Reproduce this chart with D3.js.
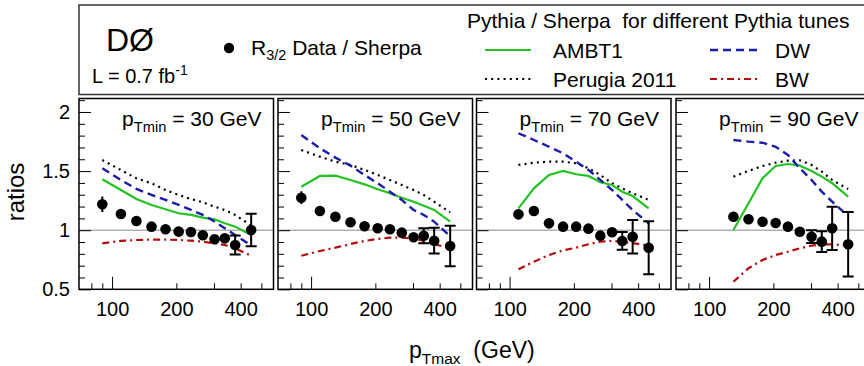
<!DOCTYPE html>
<html>
<head>
<meta charset="utf-8">
<script src="https://cdn.jsdelivr.net/npm/d3@7"></script>
<style>
  html, body { margin: 0; padding: 0; background: #fff; }
  svg { display: block; font-family: "Liberation Sans", Arial, Helvetica, sans-serif; }
</style>
</head>
<body>
<svg id="chart" width="864" height="366"></svg>
<script>
// ---------------- data ----------------
const pTmax = [90, 110, 130, 153, 178, 205, 234, 266, 302, 337, 377, 448];
const pTmin = [30, 50, 70, 90];
const startIdx = [0, 0, 1, 2];

const dataRatio = [
  [1.219, 1.137, 1.078, 1.030, 1.008, 0.988, 0.985, 0.957, 0.923, 0.931, 0.875, 1.002],
  [1.275, 1.162, 1.114, 1.067, 1.033, 1.016, 1.008, 0.979, 0.940, 0.953, 0.911, 0.866],
  [1.134, 1.162, 1.058, 1.030, 1.030, 1.013, 0.954, 0.982, 0.909, 0.945, 0.852],
  [1.114, 1.092, 1.072, 1.061, 1.030, 0.987, 0.945, 0.903, 1.016, 0.881]
];
const dataErr = [
  [0.065, 0.030, 0.025, 0.020, 0.020, 0.020, 0.020, 0.020, 0.025, 0.030, 0.080, 0.137],
  [0.054, 0.040, 0.030, 0.025, 0.020, 0.020, 0.020, 0.020, 0.030, 0.063, 0.109, 0.172],
  [0.042, 0.035, 0.030, 0.025, 0.025, 0.025, 0.030, 0.035, 0.075, 0.142, 0.224],
  [0.042, 0.035, 0.035, 0.030, 0.030, 0.030, 0.054, 0.087, 0.183, 0.272]
];
const capFrom = [10, 9, 8, 6];

const ambt1 = [
  [1.431, 1.340, 1.264, 1.213, 1.177, 1.143, 1.129, 1.106, 1.092, 1.058, 1.030, 0.959],
  [1.368, 1.459, 1.461, 1.425, 1.388, 1.346, 1.312, 1.275, 1.241, 1.207, 1.171, 1.072],
  [1.185, 1.354, 1.467, 1.501, 1.473, 1.459, 1.405, 1.382, 1.326, 1.289, 1.185],
  [1.002, 1.228, 1.439, 1.543, 1.560, 1.546, 1.501, 1.453, 1.397, 1.284]
];
const perugia2011 = [
  [1.593, 1.509, 1.439, 1.397, 1.340, 1.298, 1.264, 1.236, 1.199, 1.171, 1.129, 1.040],
  [1.678, 1.622, 1.580, 1.552, 1.510, 1.467, 1.425, 1.382, 1.340, 1.298, 1.241, 1.151],
  [1.552, 1.571, 1.580, 1.580, 1.566, 1.524, 1.467, 1.397, 1.354, 1.312, 1.256],
  [1.453, 1.501, 1.543, 1.571, 1.588, 1.591, 1.552, 1.495, 1.425, 1.348]
];
const dw = [
  [1.524, 1.425, 1.350, 1.298, 1.256, 1.214, 1.171, 1.129, 1.073, 1.017, 0.960, 0.870],
  [1.805, 1.693, 1.614, 1.546, 1.467, 1.397, 1.326, 1.256, 1.171, 1.129, 1.072, 0.950],
  [1.820, 1.763, 1.706, 1.650, 1.580, 1.510, 1.425, 1.340, 1.256, 1.171, 1.058],
  [1.763, 1.749, 1.740, 1.706, 1.636, 1.524, 1.425, 1.326, 1.241, 1.120]
];
const bw = [
  [0.889, 0.909, 0.917, 0.920, 0.920, 0.917, 0.911, 0.903, 0.889, 0.875, 0.847, 0.784],
  [0.784, 0.824, 0.852, 0.883, 0.909, 0.926, 0.937, 0.937, 0.930, 0.910, 0.880, 0.850],
  [0.669, 0.734, 0.790, 0.830, 0.852, 0.881, 0.903, 0.910, 0.900, 0.890, 0.870],
  [0.564, 0.678, 0.748, 0.790, 0.818, 0.847, 0.869, 0.881, 0.880, 0.870]
];

const xTickMajor = [100];
const xTickMinor = [80, 90, 200, 300, 400, 500];
const xTickLabels = [100, 200, 400];
const yTickMajor = [0.5, 1, 1.5, 2];
const yTickMinor = [0.6, 0.7, 0.8, 0.9, 1.1, 1.2, 1.3, 1.4, 1.6, 1.7, 1.8, 1.9, 2.1];
const yTickLabels = [0.5, 1, 1.5, 2];

// ---------------- layout ----------------
const svg = d3.select("#chart");
const panelLeft = [79, 278, 476.5, 676];
const panelW = 194.5;
const panelTop = 98.5, panelBottom = 289.3;
const panelH = panelBottom - panelTop;

const COL = { green: "#22c322", blue: "#1c1caa", red: "#b30c0c", black: "#000" };
const styles = {
  ambt1: { stroke: COL.green, width: 2.2, dash: null },
  perugia: { stroke: COL.black, width: 2.2, dash: "2,4.2" },
  dw: { stroke: COL.blue, width: 2.4, dash: "8,5" },
  bw: { stroke: COL.red, width: 2.2, dash: "7,4,2,4" }
};

const x = d3.scaleLog().domain([70, 570]).range([0, panelW]);
const y = d3.scaleLinear().domain([0.5, 2.114]).range([panelH, 0]);

// legend box
svg.append("rect").attr("x", 79).attr("y", 5).attr("width", 800).attr("height", 89.5)
  .attr("fill", "none").attr("stroke", "#333").attr("stroke-width", 1.5);

svg.append("text").attr("x", 106).attr("y", 51).attr("font-size", 32).text("DØ");
const lt = svg.append("text").attr("x", 92).attr("y", 83).attr("font-size", 20);
lt.append("tspan").text("L = 0.7 fb");
lt.append("tspan").attr("font-size", 14).attr("dy", -8).text("-1");

svg.append("circle").attr("cx", 229).attr("cy", 48).attr("r", 5.2).attr("fill", "#000");
const rt = svg.append("text").attr("x", 251).attr("y", 55).attr("font-size", 21);
rt.append("tspan").text("R");
rt.append("tspan").attr("font-size", 14.5).attr("dy", 5).text("3/2");
rt.append("tspan").attr("dy", -5).text(" Data / Sherpa");

svg.append("text").attr("x", 467).attr("y", 28).attr("font-size", 21)
  .attr("xml:space", "preserve").text("Pythia / Sherpa  for different Pythia tunes");

const legendItems = [
  { key: "ambt1", label: "AMBT1", x1: 485, x2: 531, ly: 50, tx: 553, ty: 58 },
  { key: "perugia", label: "Perugia 2011", x1: 485, x2: 531, ly: 79, tx: 553, ty: 87 },
  { key: "dw", label: "DW", x1: 710, x2: 760, ly: 50, tx: 775, ty: 58 },
  { key: "bw", label: "BW", x1: 710, x2: 760, ly: 79, tx: 775, ty: 87 }
];
legendItems.forEach(it => {
  const s = styles[it.key];
  svg.append("line").attr("x1", it.x1).attr("x2", it.x2).attr("y1", it.ly).attr("y2", it.ly)
    .attr("stroke", s.stroke).attr("stroke-width", s.width)
    .attr("stroke-dasharray", s.dash);
  svg.append("text").attr("x", it.tx).attr("y", it.ty).attr("font-size", 21).text(it.label);
});

// y title
svg.append("text").attr("transform", "translate(24,192) rotate(-90)")
  .attr("text-anchor", "middle").attr("font-size", 24).text("ratios");

// x title
const xt = svg.append("text").attr("x", 409).attr("y", 358).attr("font-size", 23)
  .attr("xml:space", "preserve");
xt.append("tspan").text("p");
xt.append("tspan").attr("font-size", 15.5).attr("dy", 6).text("Tmax");
xt.append("tspan").attr("dy", -6).text("  (GeV)");

const line = d3.line().x(d => x(d[0])).y(d => y(d[1]));

pTmin.forEach((pm, p) => {
  const g = svg.append("g").attr("transform", `translate(${panelLeft[p]},${panelTop})`);
  const clipId = "clip" + p;
  g.append("clipPath").attr("id", clipId).append("rect")
    .attr("width", panelW).attr("height", panelH);

  // reference line at 1
  g.append("line").attr("x1", 0).attr("x2", panelW).attr("y1", y(1)).attr("y2", y(1))
    .attr("stroke", "#b0b0b0").attr("stroke-width", 1.5);

  const xs = pTmax.slice(startIdx[p]);
  const curves = [["perugia", perugia2011[p]], ["ambt1", ambt1[p]], ["dw", dw[p]], ["bw", bw[p]]];
  const cg = g.append("g").attr("clip-path", `url(#${clipId})`);
  curves.forEach(([key, vals]) => {
    const s = styles[key];
    cg.append("path").datum(vals.map((v, i) => [xs[i], v]))
      .attr("d", line).attr("fill", "none")
      .attr("stroke", s.stroke).attr("stroke-width", s.width)
      .attr("stroke-dasharray", s.dash);
  });

  // data points
  const pts = dataRatio[p].map((v, i) => ({ x: xs[i], v, e: dataErr[p][i], cap: i >= capFrom[p] }));
  const pg = cg.append("g");
  pts.forEach(d => {
    const cx = x(d.x);
    pg.append("line").attr("x1", cx).attr("x2", cx)
      .attr("y1", y(d.v - d.e)).attr("y2", y(d.v + d.e))
      .attr("stroke", "#000").attr("stroke-width", 2);
    if (d.cap) {
      [d.v - d.e, d.v + d.e].forEach(ev => {
        pg.append("line").attr("x1", cx - 5.5).attr("x2", cx + 5.5)
          .attr("y1", y(ev)).attr("y2", y(ev))
          .attr("stroke", "#000").attr("stroke-width", 2);
      });
    }
    pg.append("circle").attr("cx", cx).attr("cy", y(d.v)).attr("r", 5.3).attr("fill", "#000");
  });

  // frame
  g.append("rect").attr("width", panelW).attr("height", panelH)
    .attr("fill", "none").attr("stroke", "#000").attr("stroke-width", 1.5);

  // x ticks (inward)
  const gx = g.append("g").attr("transform", `translate(0,${panelH})`);
  gx.append("g").call(d3.axisBottom(x).tickValues(xTickMajor).tickSize(-12.5).tickFormat(""));
  gx.append("g").call(d3.axisBottom(x).tickValues(xTickMinor).tickSize(-6).tickFormat(""));
  const lab = gx.append("g").call(d3.axisBottom(x).tickValues(xTickLabels).tickSize(0)
    .tickPadding(13).tickFormat(d3.format("d")));
  lab.selectAll("text").attr("font-size", 20).attr("font-family", "Liberation Sans, Arial, sans-serif").attr("fill", "#000");

  // y ticks (inward)
  const gy = g.append("g");
  gy.append("g").call(d3.axisLeft(y).tickValues(yTickMajor).tickSize(-12).tickFormat(""));
  gy.append("g").call(d3.axisLeft(y).tickValues(yTickMinor.filter(v => v < 2.114)).tickSize(-6).tickFormat(""));
  if (p === 0) {
    const yl = gy.append("g").call(d3.axisLeft(y).tickValues(yTickLabels).tickSize(0)
      .tickPadding(9).tickFormat(d => String(d)));
    yl.selectAll("text").attr("font-size", 20).attr("font-family", "Liberation Sans, Arial, sans-serif").attr("fill", "#000");
  }
  g.selectAll(".domain").remove();
  g.selectAll(".tick line").attr("stroke", "#000").attr("stroke-width", 1);

  // panel label
  const pl = g.append("text").attr("x", 43).attr("y", 27).attr("font-size", 21)
    .attr("xml:space", "preserve");
  pl.append("tspan").text("p");
  pl.append("tspan").attr("font-size", 14.7).attr("dy", 6).text("Tmin");
  pl.append("tspan").attr("dy", -6).text(` = ${pm} GeV`);
});
</script>
</body>
</html>
